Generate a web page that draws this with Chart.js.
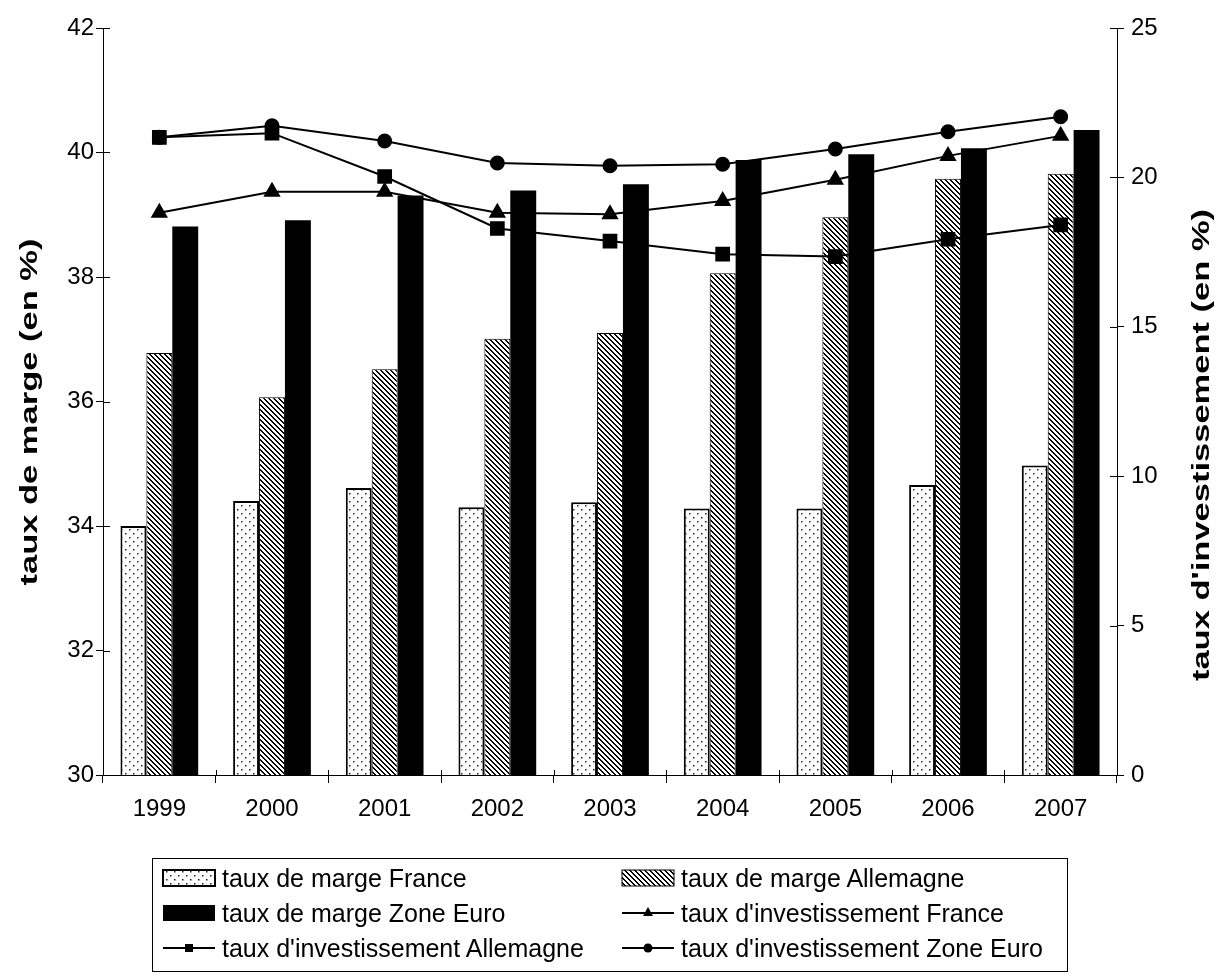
<!DOCTYPE html>
<html lang="fr">
<head>
<meta charset="utf-8">
<script src="https://cdn.jsdelivr.net/npm/chart.js@4.4.1/dist/chart.umd.min.js"></script>
<style>
  body { margin: 0; background: #fff; }
  #wrap { position: relative; width: 1218px; height: 979px; }
  #legende {
    position: absolute; left: 152px; top: 858px; width: 916px; height: 114px;
    border: 1px solid #000; box-sizing: border-box;
    font-family: Arial, "Liberation Sans", sans-serif; font-size: 25px; color: #000;
  }
  .item { position: absolute; display: flex; align-items: center; height: 30px; white-space: nowrap; }
  .item canvas { margin-right: 5px; }
</style>
</head>
<body>
<div id="wrap">
  <canvas id="graphique" width="1218" height="979"></canvas>
  <div id="legende"></div>
</div>
<script>
// données
const annees = ['1999', '2000', '2001', '2002', '2003', '2004', '2005', '2006', '2007'];
const margeFrance = [34.00, 34.40, 34.61, 34.30, 34.38, 34.28, 34.28, 34.66, 34.97];
const margeAllemagne = [36.78, 36.07, 36.52, 37.01, 37.10, 38.06, 38.96, 39.58, 39.66];
const margeZoneEuro = [38.81, 38.91, 39.31, 39.39, 39.49, 39.88, 39.97, 40.07, 40.36];
const investFrance = [18.82, 19.52, 19.52, 18.82, 18.77, 19.21, 19.92, 20.72, 21.39];
const investAllemagne = [21.34, 21.48, 20.03, 18.29, 17.87, 17.43, 17.35, 17.93, 18.41];
const investZoneEuro = [21.34, 21.73, 21.22, 20.48, 20.39, 20.44, 20.95, 21.53, 22.03];

const police = 'Arial, "Liberation Sans", sans-serif';
Chart.defaults.font.family = police;
Chart.defaults.color = '#000';

// motifs de remplissage
function motifPoints() {
  const c = document.createElement('canvas');
  c.width = 8; c.height = 8;
  const g = c.getContext('2d');
  g.fillStyle = '#fff'; g.fillRect(0, 0, 8, 8);
  g.fillStyle = '#222';
  g.fillRect(1, 1, 1.5, 1.5);
  g.fillRect(5, 5, 1.5, 1.5);
  return g.createPattern(c, 'repeat');
}
function motifHachures() {
  const c = document.createElement('canvas');
  c.width = 5; c.height = 5;
  const g = c.getContext('2d');
  g.fillStyle = '#fff'; g.fillRect(0, 0, 5, 5);
  g.fillStyle = '#000';
  for (let i = 0; i < 5; i++) {
    for (let j = 0; j < 5; j++) {
      const d = ((i - j) % 5 + 5) % 5;
      if (d === 0 || d === 1) g.fillRect(i, j, 1, 1);
    }
  }
  return g.createPattern(c, 'repeat');
}
const points = motifPoints();
const hachures = motifHachures();

// titre vertical (lu de bas en haut), un peu étiré comme sur l'original
function titreVertical(ctx, texte, x, y) {
  ctx.save();
  ctx.translate(x, y);
  ctx.rotate(-Math.PI / 2);
  ctx.scale(1.5, 1);
  ctx.font = 'bold 23px ' + police;
  ctx.fillStyle = '#000';
  ctx.textAlign = 'center';
  ctx.textBaseline = 'middle';
  ctx.fillText(texte, 0, 0);
  ctx.restore();
}

// petits traits de graduation vers l'intérieur + titres des axes
const graduations = {
  id: 'graduations',
  afterDraw(chart) {
    const ctx = chart.ctx;
    const a = chart.chartArea;
    ctx.save();
    ctx.strokeStyle = '#000';
    ctx.lineWidth = 1;
    ctx.beginPath();
    chart.scales.y.ticks.forEach((t, i) => {
      const py = Math.round(chart.scales.y.getPixelForTick(i)) + 0.5;
      ctx.moveTo(a.left, py); ctx.lineTo(a.left + 7, py);
    });
    chart.scales.y1.ticks.forEach((t, i) => {
      const py = Math.round(chart.scales.y1.getPixelForTick(i)) + 0.5;
      ctx.moveTo(a.right, py); ctx.lineTo(a.right - 7, py);
    });
    const x = chart.scales.x;
    for (let i = 0; i <= annees.length; i++) {
      const px = Math.round(x.left + i * (x.width / annees.length)) + 0.5;
      ctx.moveTo(px, a.bottom); ctx.lineTo(px, a.bottom - 5);
    }
    ctx.stroke();
    ctx.restore();
    titreVertical(ctx, 'taux de marge (en %)', 31, 412);
    titreVertical(ctx, "taux d'investissement (en %)", 1203, 445);
  }
};

const ctx = document.getElementById('graphique').getContext('2d');
new Chart(ctx, {
  type: 'bar',
  data: {
    labels: annees,
    datasets: [
      { type: 'line', label: "taux d'investissement France", data: investFrance, yAxisID: 'y1',
        borderColor: '#000', borderWidth: 2, pointStyle: 'triangle', pointRadius: 8,
        pointBackgroundColor: '#000', pointBorderColor: '#000', tension: 0, order: 0 },
      { type: 'line', label: "taux d'investissement Allemagne", data: investAllemagne, yAxisID: 'y1',
        borderColor: '#000', borderWidth: 2, pointStyle: 'rect', pointRadius: 9,
        pointBackgroundColor: '#000', pointBorderColor: '#000', tension: 0, order: 0 },
      { type: 'line', label: "taux d'investissement Zone Euro", data: investZoneEuro, yAxisID: 'y1',
        borderColor: '#000', borderWidth: 2, pointStyle: 'circle', pointRadius: 6.5,
        pointBackgroundColor: '#000', pointBorderColor: '#000', tension: 0, order: 0 },
      { label: 'taux de marge France', data: margeFrance, yAxisID: 'y',
        backgroundColor: points, borderColor: '#000', borderWidth: 2, order: 1 },
      { label: 'taux de marge Allemagne', data: margeAllemagne, yAxisID: 'y',
        backgroundColor: hachures, borderColor: '#000', borderWidth: 1, order: 1 },
      { label: 'taux de marge Zone Euro', data: margeZoneEuro, yAxisID: 'y',
        backgroundColor: '#000', borderColor: '#000', borderWidth: 0, order: 1 },
    ],
  },
  options: {
    responsive: false,
    animation: false,
    layout: { padding: { top: 28, bottom: 144, left: 0, right: 0 } },
    datasets: { bar: { categoryPercentage: 0.69, barPercentage: 1.0 } },
    scales: {
      x: {
        grid: { display: true, drawOnChartArea: false, tickLength: 8, color: '#000', offset: true },
        border: { display: true, color: '#000', width: 1 },
        ticks: { font: { size: 24 }, padding: 12, color: '#000' },
        afterFit: (s) => { s.height = 60; },
      },
      y: {
        position: 'left', min: 30, max: 42,
        grid: { drawOnChartArea: false, tickLength: 7, color: '#000' },
        border: { display: true, color: '#000', width: 1 },
        ticks: { stepSize: 2, font: { size: 24 }, padding: 2, color: '#000' },
        afterFit: (s) => { s.width = 103; },
      },
      y1: {
        position: 'right', min: 0, max: 25,
        grid: { drawOnChartArea: false, tickLength: 7, color: '#000' },
        border: { display: true, color: '#000', width: 1 },
        ticks: { stepSize: 5, font: { size: 24 }, padding: 7, color: '#000' },
        afterFit: (s) => { s.width = 101; },
      },
    },
    plugins: {
      legend: { display: false },
      tooltip: { enabled: false },
    },
  },
  plugins: [graduations],
});

// légende en HTML, deux colonnes
const elements = [
  { texte: 'taux de marge France', genre: 'barre', fond: points, bord: 2, col: 0, ligne: 0 },
  { texte: 'taux de marge Allemagne', genre: 'barre', fond: hachures, bord: 1, col: 1, ligne: 0 },
  { texte: 'taux de marge Zone Euro', genre: 'barre', fond: '#000', bord: 0, col: 0, ligne: 1 },
  { texte: "taux d'investissement France", genre: 'courbe', symbole: 'triangle', col: 1, ligne: 1 },
  { texte: "taux d'investissement Allemagne", genre: 'courbe', symbole: 'carre', col: 0, ligne: 2 },
  { texte: "taux d'investissement Zone Euro", genre: 'courbe', symbole: 'rond', col: 1, ligne: 2 },
];
const legende = document.getElementById('legende');
elements.forEach((e) => {
  const div = document.createElement('div');
  div.className = 'item';
  div.style.left = (e.col === 0 ? 8 : 467) + 'px';
  div.style.top = (4 + e.ligne * 35) + 'px';
  const c = document.createElement('canvas');
  c.width = 56; c.height = 24;
  const g = c.getContext('2d');
  if (e.genre === 'barre') {
    g.fillStyle = e.fond;
    g.fillRect(2, 4, 52, 16);
    if (e.bord) { g.lineWidth = e.bord; g.strokeStyle = '#000'; g.strokeRect(2, 4, 52, 16); }
  } else {
    g.strokeStyle = '#000'; g.lineWidth = 2;
    g.beginPath(); g.moveTo(2, 12); g.lineTo(54, 12); g.stroke();
    g.fillStyle = '#000';
    g.beginPath();
    if (e.symbole === 'triangle') { g.moveTo(28, 6); g.lineTo(33, 15); g.lineTo(23, 15); g.closePath(); }
    else if (e.symbole === 'carre') { g.rect(24, 8, 8, 8); }
    else { g.arc(28, 12, 4.5, 0, Math.PI * 2); }
    g.fill();
  }
  const span = document.createElement('span');
  span.textContent = e.texte;
  div.appendChild(c);
  div.appendChild(span);
  legende.appendChild(div);
});
</script>
</body>
</html>
